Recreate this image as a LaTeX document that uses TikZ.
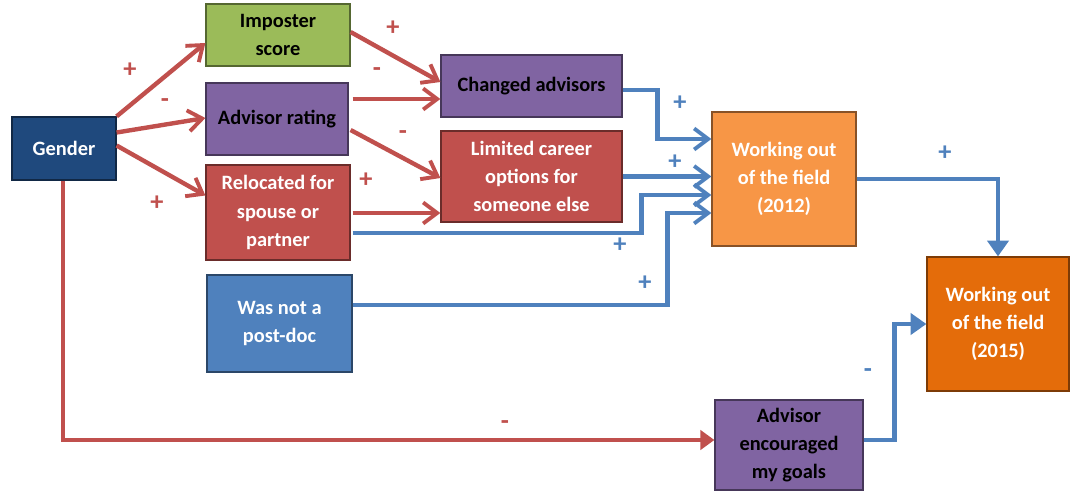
\documentclass[tikz,border=0pt]{standalone}
\usepackage{fontspec}
\setmainfont{Carlito}
\usepackage{xcolor}
\usetikzlibrary{arrows.meta, positioning, calc}

\definecolor{gendblue}{HTML}{1F497D}
\definecolor{impgreen}{HTML}{9BBB59}
\definecolor{advpurple}{HTML}{8064A2}
\definecolor{relred}{HTML}{C0504D}
\definecolor{postblue}{HTML}{4F81BD}
\definecolor{workorange}{HTML}{F79646}
\definecolor{workdark}{HTML}{E46C0A}

\begin{document}
\begin{tikzpicture}[
        x=0.02cm, y=-0.02cm,
        box/.style={rectangle, draw=#1!55!black, fill=#1, line width=0.7pt, align=center,
          font=\bfseries\fontsize{11.6}{16}\selectfont, inner sep=2pt},
        redarrow/.style={draw=relred, line width=2.5pt, -{Straight Barb[length=8pt, width=12pt, line width=2.2pt]}},
        bluearrow/.style={draw=postblue, line width=2.5pt, -{Straight Barb[length=8pt, width=12pt, line width=2.2pt]}},
        redfill/.style={draw=relred, line width=2.5pt, -{Triangle[length=8pt, width=11pt]}},
        bluefill/.style={draw=postblue, line width=2.5pt, -{Triangle[length=9pt, width=12pt]}},
        redsign/.style={text=relred, font=\bfseries\fontsize{15}{15}\selectfont},
        bluesign/.style={text=postblue, font=\bfseries\fontsize{15}{15}\selectfont}
      ]
      \useasboundingbox (0,0) rectangle (1071,493);

      % Nodes
      \node[box=gendblue, text=white, minimum width=2.08cm, minimum height=1.26cm] (gender) at (64,148.5) {Gender};
      \node[box=impgreen, text=black, minimum width=2.88cm, minimum height=1.24cm] (imposter) at (278,35) {Imposter\\score};
      \node[box=advpurple, text=black, minimum width=2.84cm, minimum height=1.44cm] (advrating) at (277,119) {Advisor rating};
      \node[box=relred, text=white, minimum width=2.88cm, minimum height=1.9cm] (relocated) at (278,212.5) {Relocated for\\spouse or\\partner};
      \node[box=postblue, text=white, minimum width=2.9cm, minimum height=1.94cm] (postdoc) at (279.5,323.5) {Was not a\\post-doc};
      \node[box=advpurple, text=black, minimum width=3.62cm, minimum height=1.24cm] (changed) at (531.5,86) {Changed advisors};
      \node[box=relred, text=white, minimum width=3.62cm, minimum height=1.82cm] (limited) at (531.5,176.5) {Limited career\\options for\\someone else};
      \node[box=workorange, text=white, minimum width=2.88cm, minimum height=2.68cm] (work12) at (784,179) {Working out\\of the field\\(2012)};
      \node[box=workdark, text=white, minimum width=2.84cm, minimum height=2.68cm] (work15) at (998,324) {Working out\\of the field\\(2015)};
      \node[box=advpurple, text=black, minimum width=2.96cm, minimum height=1.8cm] (encouraged) at (789,445) {Advisor\\encouraged\\my goals};

      % Edges from gender
      \draw[redarrow] (gender.north east) -- ($(imposter.west)+(0,8)$);
      \draw[redarrow] ($(gender.east)+(0,-16)$) -- ($(advrating.west)+(0,-1)$);
      \draw[redarrow] ($(gender.east)+(0,-3)$) -- ($(relocated.west)+(0,-17)$);
      \draw[redfill] ($(gender.south)+(-1,0)$) |- ($(encouraged.west)+(0,-5)$);

      % Edges into the middle column
      \draw[redarrow] ($(imposter.east)+(0,-3)$) -- ($(changed.west)+(0,-4)$);
      \draw[redarrow] ($(advrating.east)+(4,-20)$) -- ($(changed.west)+(0,13)$);
      \draw[redarrow] ($(advrating.east)+(2,11)$) -- ($(limited.west)+(0,1.5)$);
      \draw[redarrow] ($(relocated.east)+(2,0.5)$) -- ($(limited.west)+(0,36.5)$);

      % Edges into working out of the field
      \draw[bluearrow] ($(changed.east)+(0,4)$) -| ($(work12.west)+(-54,-40)$) -- ($(work12.west)+(0,-40)$);
      \draw[bluearrow] (limited.east) -- (limited.east -| work12.west);
      \draw[bluearrow] ($(relocated.east)+(2,20.5)$) -| ($(work12.west)+(-70,16)$) -- ($(work12.west)+(0,16)$);
      \draw[bluearrow] ($(postdoc.east)+(0,-18.5)$) -| ($(work12.west)+(-44,34)$) -- ($(work12.west)+(0,34)$);
      \draw[bluefill] (work12.east) -| (work15.north);
      \draw[bluefill] ($(encouraged.east)+(0,-5)$) -| ($(work15.west)+(-32,0)$) -- (work15.west);

      % Signs
      \node[redsign] (s1) at (130,70) {+};
      \node[redsign] (s2) at (165,103) {-};
      \node[redsign] (s3) at (157,203) {+};
      \node[redsign] (s4) at (393,28) {+};
      \node[redsign] (s5) at (377,72) {-};
      \node[redsign] (s6) at (403,135) {-};
      \node[redsign] (s7) at (366,180) {+};
      \node[redsign] (s8) at (505,425) {-};
      \node[bluesign] (s9) at (680,103) {+};
      \node[bluesign] (s10) at (675,162) {+};
      \node[bluesign] (s11) at (620,245) {+};
      \node[bluesign] (s12) at (645,283) {+};
      \node[bluesign] (s13) at (945,153) {+};
      \node[bluesign] (s14) at (868,373) {-};
    \end{tikzpicture}
\end{document}
